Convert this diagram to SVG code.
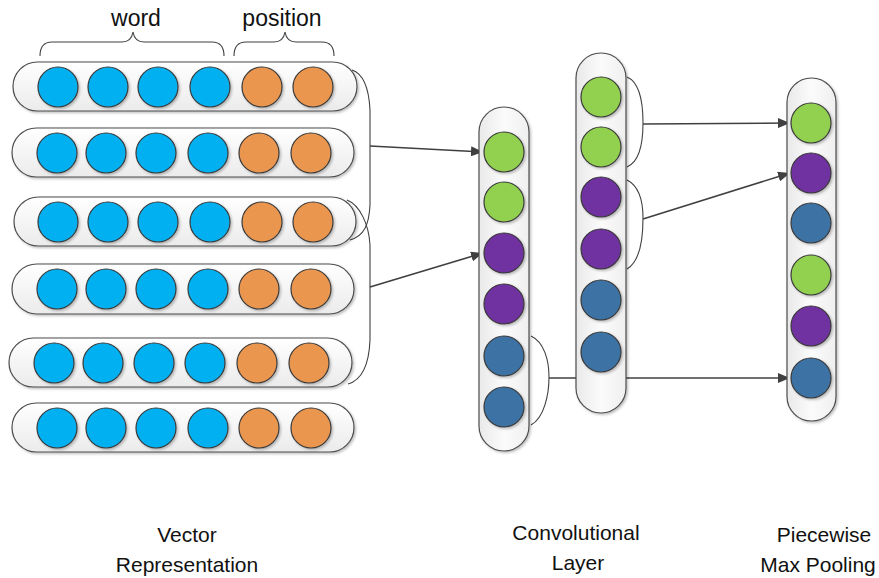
<svg xmlns="http://www.w3.org/2000/svg" width="879" height="578" viewBox="0 0 879 578">
  <defs>
    <linearGradient id="gh" x1="0" y1="0" x2="0" y2="1">
      <stop offset="0" stop-color="#ffffff"/>
      <stop offset="1" stop-color="#ebebeb"/>
    </linearGradient>
    <linearGradient id="gv" x1="0" y1="0" x2="1" y2="0">
      <stop offset="0" stop-color="#e9e9e9"/>
      <stop offset="0.5" stop-color="#fbfbfb"/>
      <stop offset="1" stop-color="#efefef"/>
    </linearGradient>
    <filter id="sh" x="-10%" y="-10%" width="130%" height="130%">
      <feDropShadow dx="1.5" dy="1.5" stdDeviation="1" flood-color="#000" flood-opacity="0.25"/>
    </filter>
    <marker id="arr" markerUnits="userSpaceOnUse" markerWidth="12" markerHeight="10" refX="12" refY="5" orient="auto">
      <path d="M0,0 L12,5 L0,10 z" fill="#404040"/>
    </marker>
  </defs>
  <style>
    .capH { fill: url(#gh); stroke: #4d4d4d; stroke-width: 1.2; filter: url(#sh); }
    .capV { fill: url(#gv); stroke: #4d4d4d; stroke-width: 1.2; filter: url(#sh); }
    circle { stroke: #3a3a3a; stroke-width: 1.2; filter: url(#sh); }
    .b { fill: #00B0F0; }
    .o { fill: #EA9650; }
    .g { fill: #92D050; }
    .p { fill: #7030A0; }
    .s { fill: #3E72A5; }
    .br { fill: none; stroke: #404040; stroke-width: 1.1; }
    .ln { fill: none; stroke: #404040; stroke-width: 1.6; }
    text { font-family: "Liberation Sans", Arial, sans-serif; font-size: 21px; fill: #111; text-anchor: middle; }
    .top { font-size: 23px; }
  </style>

  <g id="connectors">
    <path class="br" d="M352,70 C364,74 369,90 370,110 L370,205 C369,225 364,236 350,240"/>
    <path class="br" d="M347,200 C360,205 369,225 370,245 L370,340 C369,365 362,380 348,384"/>
    <path class="br" d="M531,336 C544,342 549,360 549,377 C549,395 544,418 531,425"/>
    <path class="br" d="M627,77 C639,82 643,100 643,123 C643,145 639,162 627,167"/>
    <path class="br" d="M627,180 C639,186 643,200 643,218 C643,240 639,262 627,269"/>
    <line class="ln" x1="370" y1="146" x2="483" y2="152" marker-end="url(#arr)"/>
    <line class="ln" x1="370" y1="287" x2="483" y2="253" marker-end="url(#arr)"/>
    <line class="ln" x1="549" y1="378" x2="790" y2="378" marker-end="url(#arr)"/>
    <line class="ln" x1="643" y1="124" x2="790" y2="123" marker-end="url(#arr)"/>
    <line class="ln" x1="643" y1="219" x2="790" y2="173" marker-end="url(#arr)"/>
  </g>

  <g id="braces">
    <path class="br" d="M40,56 C40,46 44,42 52,42 L122,42 C128,42 132,38 133,32 C134,38 138,42 144,42 L212,42 C220,42 224,46 224,56"/>
    <path class="br" d="M234,56 C234,46 238,42 246,42 L274,42 C280,42 284,38 285,32 C286,38 290,42 296,42 L322,42 C330,42 334,46 334,56"/>
    <text class="top" x="136" y="26">word</text>
    <text class="top" x="282" y="26">position</text>
  </g>

  <g id="row1">
    <rect class="capH" x="13" y="62" width="344" height="49" rx="24.5"/>
    <circle class="b" cx="58" cy="87" r="20"/><circle class="b" cx="108" cy="87" r="20"/><circle class="b" cx="158" cy="87" r="20"/><circle class="b" cx="210" cy="87" r="20"/><circle class="o" cx="262" cy="87" r="20"/><circle class="o" cx="313" cy="87" r="20"/>
  </g>
  <g id="row2">
    <rect class="capH" x="12" y="128" width="342" height="49" rx="24.5"/>
    <circle class="b" cx="57" cy="153" r="20"/><circle class="b" cx="106" cy="153" r="20"/><circle class="b" cx="156" cy="153" r="20"/><circle class="b" cx="208" cy="153" r="20"/><circle class="o" cx="259" cy="153" r="20"/><circle class="o" cx="311" cy="153" r="20"/>
  </g>
  <g id="row3">
    <rect class="capH" x="14" y="197" width="342" height="49" rx="24.5"/>
    <circle class="b" cx="58" cy="222" r="20"/><circle class="b" cx="108" cy="222" r="20"/><circle class="b" cx="158" cy="222" r="20"/><circle class="b" cx="210" cy="222" r="20"/><circle class="o" cx="262" cy="222" r="20"/><circle class="o" cx="313" cy="222" r="20"/>
  </g>
  <g id="row4">
    <rect class="capH" x="12" y="264" width="342" height="50" rx="25"/>
    <circle class="b" cx="57" cy="289" r="20"/><circle class="b" cx="106" cy="289" r="20"/><circle class="b" cx="156" cy="289" r="20"/><circle class="b" cx="208" cy="289" r="20"/><circle class="o" cx="259" cy="289" r="20"/><circle class="o" cx="311" cy="289" r="20"/>
  </g>
  <g id="row5">
    <rect class="capH" x="9" y="338" width="343" height="49" rx="24.5"/>
    <circle class="b" cx="54" cy="363" r="20"/><circle class="b" cx="103" cy="363" r="20"/><circle class="b" cx="154" cy="363" r="20"/><circle class="b" cx="205" cy="363" r="20"/><circle class="o" cx="257" cy="363" r="20"/><circle class="o" cx="309" cy="363" r="20"/>
  </g>
  <g id="row6">
    <rect class="capH" x="12" y="403" width="342" height="49" rx="24.5"/>
    <circle class="b" cx="57" cy="428" r="20"/><circle class="b" cx="106" cy="428" r="20"/><circle class="b" cx="156" cy="428" r="20"/><circle class="b" cx="208" cy="428" r="20"/><circle class="o" cx="259" cy="428" r="20"/><circle class="o" cx="311" cy="428" r="20"/>
  </g>

  <g id="conv1">
    <rect class="capV" x="479" y="107" width="50" height="344" rx="25"/>
    <circle class="g" cx="504" cy="152" r="20"/><circle class="g" cx="504" cy="202" r="20"/><circle class="p" cx="504" cy="253" r="20"/><circle class="p" cx="504" cy="304" r="20"/><circle class="s" cx="504" cy="356" r="20"/><circle class="s" cx="504" cy="407" r="20"/>
  </g>
  <g id="conv2">
    <rect class="capV" x="576" y="53" width="50" height="360" rx="25"/>
    <circle class="g" cx="601" cy="97" r="20"/><circle class="g" cx="601" cy="147" r="20"/><circle class="p" cx="601" cy="197" r="20"/><circle class="p" cx="601" cy="249" r="20"/><circle class="s" cx="601" cy="300" r="20"/><circle class="s" cx="601" cy="352" r="20"/>
  </g>
  <g id="pool">
    <rect class="capV" x="787" y="78" width="49" height="343" rx="24.5"/>
    <circle class="g" cx="811" cy="123" r="20"/><circle class="p" cx="811" cy="173" r="20"/><circle class="s" cx="811" cy="223" r="20"/><circle class="g" cx="811" cy="275" r="20"/><circle class="p" cx="811" cy="326" r="20"/><circle class="s" cx="811" cy="378" r="20"/>
  </g>

  <g id="labels">
    <text x="187" y="542">Vector</text>
    <text x="187" y="572">Representation</text>
    <text x="576" y="540">Convolutional</text>
    <text x="578" y="570">Layer</text>
    <text x="824" y="542">Piecewise</text>
    <text x="818" y="572">Max Pooling</text>
  </g>
</svg>
